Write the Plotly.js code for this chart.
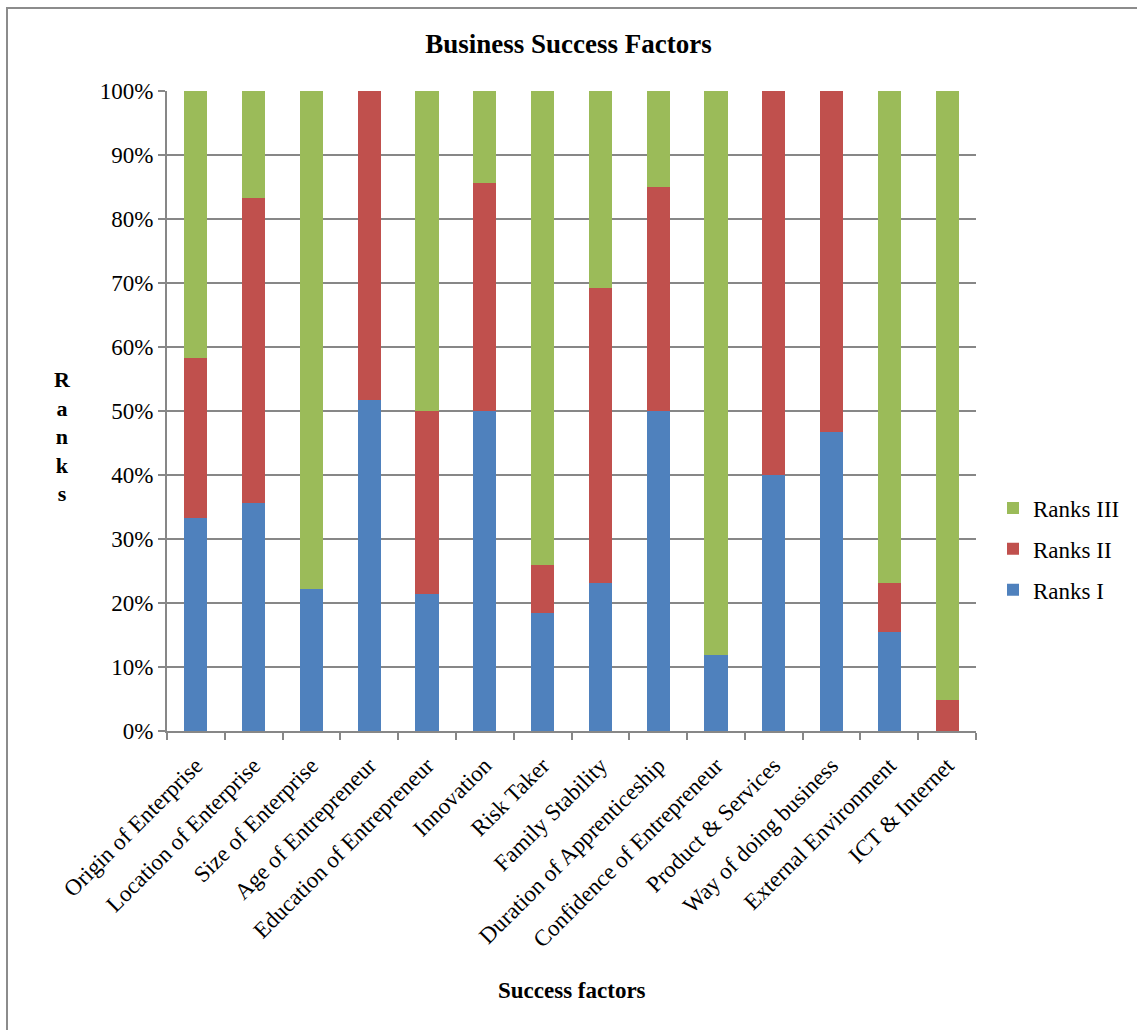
<!DOCTYPE html>
<html>
<head>
<meta charset="utf-8">
<script src="https://cdn.plot.ly/plotly-3.0.1.min.js"></script>
<style>
html,body{margin:0;padding:0;background:#fff;}
#chart{position:absolute;left:0;top:0;width:1137px;height:1030px;}
#frame{position:absolute;left:6px;top:7px;width:1140px;height:1040px;border-left:2px solid #8c8c8c;border-top:2px solid #8c8c8c;pointer-events:none;}
</style>
</head>
<body>
<div id="chart"></div>
<div id="frame"></div>
<script>
const categories = ["Origin of Enterprise","Location of Enterprise","Size of Enterprise","Age of Entrepreneur","Education of Entrepreneur","Innovation","Risk Taker","Family Stability","Duration of Apprenticeship","Confidence of Entrepreneur","Product & Services","Way of doing business","External Environment","ICT & Internet"];
const ranksI   = [33.3, 35.7, 22.2, 51.7, 21.4, 50.0, 18.5, 23.1, 50.0, 11.8, 40.0, 46.7, 15.4, 0.0];
const ranksII  = [25.0, 47.6, 0.0, 48.3, 28.6, 35.7, 7.4, 46.1, 35.0, 0.0, 60.0, 53.3, 7.7, 4.8];
const ranksIII = [41.7, 16.7, 77.8, 0.0, 50.0, 14.3, 74.1, 30.8, 15.0, 88.2, 0.0, 0.0, 76.9, 95.2];

const font = "'Liberation Serif', 'Times New Roman', serif";
const grid = "#878787";

const traces = [
  {name:"Ranks I", legendgroup:"g1", legendrank:3, x:categories, y:ranksI, type:"bar", marker:{color:"#4F81BD"}},
  {name:"Ranks II", legendgroup:"g2", legendrank:2, x:categories, y:ranksII, type:"bar", marker:{color:"#C0504D"}},
  {name:"Ranks III", legendgroup:"g3", legendrank:1, x:categories, y:ranksIII, type:"bar", marker:{color:"#9BBB59"}}
];

const layout = {
  width:1137, height:1030,
  paper_bgcolor:"#fff", plot_bgcolor:"#fff",
  barmode:"stack", barnorm:"percent", bargap:0.6,
  margin:{l:167, r:161, t:91, b:299, autoexpand:false},
  font:{family:font, size:23, color:"#000"},
  title:{text:"<b>Business Success Factors</b>", font:{family:font, size:27, color:"#000"}, x:0.5, xanchor:"center", y:1-44/1030, yanchor:"middle"},
  xaxis:{
    type:"category", tickangle:-45, tickfont:{family:font, size:23, color:"#000"},
    showline:true, linecolor:grid, linewidth:2, ticks:"outside", tickson:"boundaries",
    ticklen:7, tickwidth:2, tickcolor:grid, showgrid:false, automargin:false, fixedrange:true,
    ticklabelstandoff:10
  },
  yaxis:{
    range:[0,100], dtick:10, ticksuffix:"%", tickfont:{family:font, size:23, color:"#000"},
    showline:true, linecolor:grid, linewidth:2, ticks:"outside", ticklen:7, tickwidth:2, tickcolor:grid,
    showgrid:true, gridcolor:grid, gridwidth:2, zeroline:false, automargin:false, fixedrange:true
  },
  legend:{
    x:(993-167)/809, xanchor:"left", y:1-(549-91)/640, yanchor:"middle", traceorder:"grouped",
    font:{family:font, size:23, color:"#000"}, itemwidth:30, tracegroupgap:8, bgcolor:"rgba(0,0,0,0)"
  },
  annotations:[
    {text:"<b>R<br>a<br>n<br>k<br>s</b>", xref:"paper", yref:"paper", x:(62-167)/809, y:1-(436-91)/640, showarrow:false, xanchor:"center", yanchor:"middle", font:{family:font, size:22, color:"#000"}, align:"center"},
    {text:"<b>Success factors</b>", xref:"paper", yref:"paper", x:0.5, y:-(990-731)/640, showarrow:false, xanchor:"center", yanchor:"middle", font:{family:font, size:23, color:"#000"}}
  ],
  showlegend:true
};

Plotly.newPlot("chart", traces, layout, {displayModeBar:false, staticPlot:true});
</script>
</body>
</html>
